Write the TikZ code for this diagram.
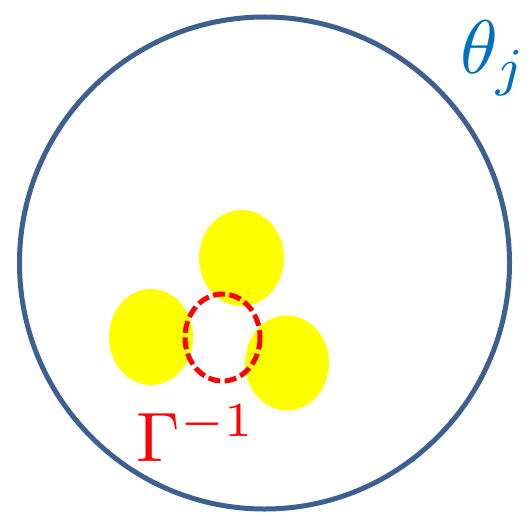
\documentclass[tikz,border=0pt]{standalone}
\usepackage{amsmath}
\usepackage{graphicx}
\definecolor{ringblue}{RGB}{62,96,145}
\definecolor{thetablue}{RGB}{0,112,192}
\definecolor{blobyellow}{RGB}{255,255,0}
\definecolor{gammared}{RGB}{255,0,0}
\tikzset{
  blob/.style={fill=blobyellow, draw=none},
  ring/.style={draw=ringblue, line width=5pt},
  gapring/.style={draw=gammared, line width=5pt, dash pattern=on 12pt off 4.5pt},
  biglabel/.style={inner sep=0pt}
}
\begin{document}
\begin{tikzpicture}[x=1pt, y=-1pt]
  \useasboundingbox (0,0) rectangle (529,513);
  \draw[ring] (264.5,263) ellipse [x radius=245, y radius=246];
  \fill[blob] (241.5,258) ellipse [x radius=42.5, y radius=48];
  \fill[blob] (151,337) ellipse [x radius=42, y radius=48];
  \fill[blob] (287,363) ellipse [x radius=42, y radius=47.5];
  \draw[gapring] (222.5,337.5) ellipse [x radius=37.5, y radius=43.5];
  \node[biglabel, text=thetablue, anchor=north east] (theta) at (528,21) {\scalebox{7.6}{$\theta_j$}};
  \node[biglabel, text=gammared] (gamma) at (196,433) {\scalebox{7}{$\Gamma^{-1}$}};
\end{tikzpicture}
\end{document}
